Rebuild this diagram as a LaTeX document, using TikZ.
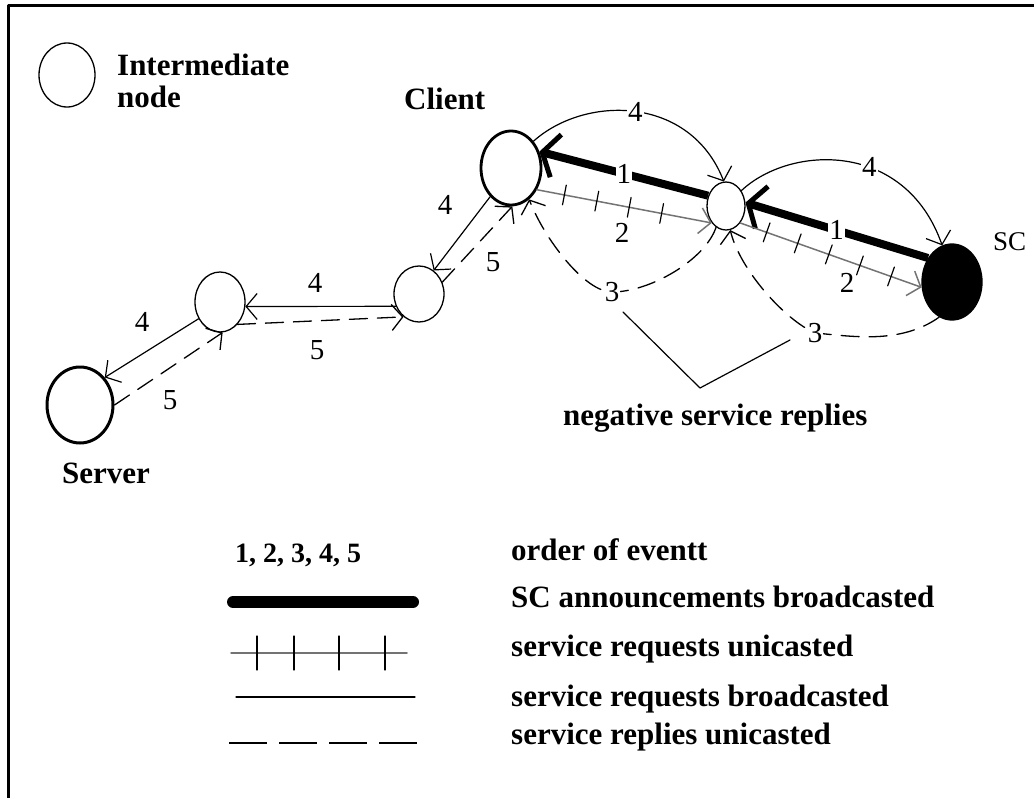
\documentclass[tikz,border=0pt]{standalone}
\usepackage{fontspec}
\setmainfont{Liberation Serif}
\usetikzlibrary{arrows.meta,shapes.geometric,decorations.markings}
\tikzset{
	peer/.style={draw, ellipse, inner sep=0pt, line width=1.3pt},
	txt/.style={font=\bfseries\fontsize{31}{33}\selectfont, inner sep=0pt, anchor=base west},
	lbl/.style={font=\fontsize{29}{31}\selectfont, inner sep=1pt, fill=white},
	barb/.style={-{Straight Barb[length=11pt,width=26pt]}},
	bcast/.style={line width=8pt, line cap=butt, -{Straight Barb[length=14pt,width=44pt,line width=5pt]}},
	ureq/.style={barb, black!55, line width=1.5pt, postaction={decorate},
		decoration={markings, mark=between positions 28pt and -22pt step 33pt with {\draw[-, black, line width=1.2pt] (0pt,-10pt) -- (0pt,10pt);}}},
	breq/.style={barb, line width=1.2pt},
	urep/.style={barb, line width=1.3pt, dash pattern=on 18pt off 10pt}
}
\begin{document}
\begin{tikzpicture}[x=1pt, y=-1pt, line join=round, line cap=round]
	\useasboundingbox (0,0) rectangle (1034,798);
	\draw[line width=3pt] (8,798) -- (8,5) -- (1034,5);
	% nodes
	\node[peer, minimum width=56pt, minimum height=64pt] (key) at (67,75) {};
	\node[txt] (keytxt) at (117,75) {Intermediate};
	\node[txt] (keytxt2) at (117,107) {node};
	\node[peer, line width=2.8pt, minimum width=60pt, minimum height=74pt] (client) at (511,168) {};
	\node[peer, minimum width=38pt, minimum height=48pt] (mid) at (726,206) {};
	\node[peer, fill=black, minimum width=60pt, minimum height=76pt] (sc) at (952,282) {};
	\node[peer, minimum width=50pt, minimum height=56pt] (a) at (419,294) {};
	\node[peer, minimum width=50pt, minimum height=60pt] (b) at (220,302) {};
	\node[peer, line width=3pt, minimum width=66pt, minimum height=76pt] (server) at (80,405) {};
	\node[txt] (clienttxt) at (404,109) {Client};
	\node[txt] (servertxt) at (62,483) {Server};
	\node[txt, font=\fontsize{27}{29}\selectfont] (sctxt) at (993,250) {SC};
	% 1
	\draw[bcast] (sc.135) -- node[lbl] (l1b) {1} (mid.10);
	\draw[bcast] (mid.150) -- node[lbl] (l1a) {1} (client.30);
	% 2
	\draw[ureq] (client.-40) -- (mid.-130);
	\draw[ureq] (mid.-50) -- (sc.190);
	\node[lbl] (l2a) at (622,233) {2};
	\node[lbl] (l2b) at (847,283) {2};
	% 3
	\draw[urep] (mid.-115) .. controls (705,260) and (650,292) .. (612,292) node[lbl] (l3a) {3}
		.. controls (585,292) and (545,240) .. (client.-60);
	\draw[urep] (sc.-110) .. controls (900,345) and (850,336) .. (815,333) node[lbl] (l3b) {3}
		.. controls (785,320) and (740,270) .. (mid.-80);
	% 4
	\draw[breq] (client.50) .. controls (585,95) and (690,95) .. (mid.95) node[lbl, pos=0.5] (l4a) {4};
	\draw[breq] (mid.45) .. controls (790,145) and (905,140) .. (sc.105) node[lbl, pos=0.6] (l4b) {4};
	\draw[breq] (client.234) -- (a.58);
	\draw[breq] (a.208) -- (b.-10);
	\draw[breq] (b.218) -- (server.48);
	\node[lbl] (l4c) at (445,205) {4};
	\node[lbl] (l4d) at (315,283) {4};
	\node[lbl] (l4e) at (142,322) {4};
	% 5
	\draw[urep] (server.0) -- (b.-85);
	\draw[urep] (b.-52) -- (a.236);
	\draw[urep] (a.27) -- (client.-88);
	\node[lbl] (l5c) at (493,262) {5};
	\node[lbl] (l5d) at (317,350) {5};
	\node[lbl] (l5e) at (170,400) {5};
	% negative replies
	\coordinate (nl) at (623,312);
	\coordinate (nv) at (700,388);
	\coordinate (nr) at (790,340);
	\draw[line width=1.2pt] (nl) -- (nv) -- (nr);
	\node[txt] (negtxt) at (563,425) {negative service replies};
	% legend
	\node[txt, font=\bfseries\fontsize{28}{30}\selectfont] (nums) at (235,562) {1, 2, 3, 4, 5};
	\draw[line width=12pt] (233,602) -- (413,602);
	\draw[black!55, line width=1.5pt] (231,653) -- (407,653);
	\foreach \x in {257,294,339,385}
		\draw[line width=1.3pt] (\x,636) -- (\x,670);
	\draw[line width=1.3pt] (236,697) -- (415,697);
	\draw[line width=1.8pt, line cap=butt, dash pattern=on 38pt off 12pt] (229,743) -- (417,743);
	\node[txt] (t1) at (511,560) {order of eventt};
	\node[txt] (t2) at (511,607) {SC announcements broadcasted};
	\node[txt] (t3) at (511,656) {service requests unicasted};
	\node[txt] (t4) at (511,706) {service requests broadcasted};
	\node[txt] (t5) at (511,744) {service replies unicasted};
\end{tikzpicture}
\end{document}
